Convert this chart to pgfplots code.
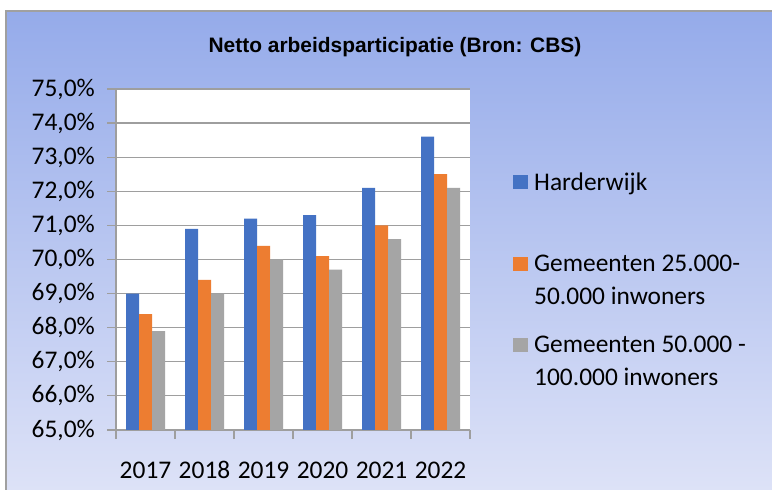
\documentclass[border=0pt]{standalone}
\usepackage{fontspec}
\setmainfont{Carlito}
\newfontfamily\arialf{Liberation Sans}
\usepackage{pgfplots}
\pgfplotsset{compat=1.18}
\definecolor{bblue}{RGB}{68,114,196}
\definecolor{borange}{RGB}{237,125,49}
\definecolor{bgray}{RGB}{165,165,165}
\definecolor{gridc}{RGB}{158,158,158}
\definecolor{bgtop}{RGB}{149,171,234}
\definecolor{bgbot}{RGB}{221,226,247}
\definecolor{framec}{RGB}{160,160,160}
\pgfplotsset{sqlegend/.style={legend image code/.code={\fill[##1,draw=none] (0bp,1bp) rectangle (15bp,15bp);}}}
\begin{document}
\begin{tikzpicture}
\useasboundingbox (0bp,0bp) rectangle (772bp,490bp);
\fill[white] (0bp,0bp) rectangle (772bp,490bp);
\shade[top color=bgtop, bottom color=bgbot] (6bp,0bp) rectangle (772bp,479bp);
\draw[framec, line width=2bp] (6bp,0bp) -- (6bp,479bp) -- (772bp,479bp);
\node[anchor=base, inner sep=0pt, font=\arialf\bfseries\fontsize{21}{25}\selectfont] at (395bp,437bp) {Netto arbeidsparticipatie (Bron: CBS)};
\begin{axis}[
  at={(116bp,60bp)}, anchor=south west,
  scale only axis, width=354bp, height=341bp,
  ybar=0pt, bar width=13bp,
  xmin=-0.5, xmax=5.5, ymin=65, ymax=75,
  enlargelimits=false,
  xtick={-0.5,0.5,...,5.5},
  x tick label as interval,
  xticklabels={2017,2018,2019,2020,2021,2022},
  ytick={65,66,...,75},
  yticklabels={{65,0\%},{66,0\%},{67,0\%},{68,0\%},{69,0\%},{70,0\%},{71,0\%},{72,0\%},{73,0\%},{74,0\%},{75,0\%}},
  axis x line*=bottom, axis y line*=left,
  axis line style={-, gridc, line width=1.2bp},
  ymajorgrids, grid style={gridc, line width=1.2bp},
  tick align=outside, major tick length=9bp,
  tick style={gridc, line width=1.2bp},
  axis background/.style={fill=white},
  ticklabel style={font=\fontsize{25.5}{30}\selectfont, text=black},
  yticklabel style={anchor=east, inner sep=0pt, xshift=-12bp},
  xticklabel style={anchor=base, inner sep=0pt, yshift=-39bp},
  legend style={at={(1.1215,0.7716)}, anchor=north west, draw=none, fill=none,
    inner sep=0pt, row sep=56.9bp, column sep=6bp, nodes={inner sep=0pt},
    cells={anchor=base west}, font=\fontsize{25.5}{33}\selectfont},
]
\addplot[fill=bblue, draw=none, sqlegend] coordinates {(0,69.0) (1,70.9) (2,71.2) (3,71.3) (4,72.1) (5,73.6)};
\addlegendentry{\parbox[t]{240bp}{\strut Harderwijk}}
\addplot[fill=borange, draw=none, sqlegend] coordinates {(0,68.4) (1,69.4) (2,70.4) (3,70.1) (4,71.0) (5,72.5)};
\addlegendentry{\parbox[t]{240bp}{\strut Gemeenten 25.000-\\\strut 50.000 inwoners}}
\addplot[fill=bgray, draw=none, sqlegend] coordinates {(0,67.9) (1,69.0) (2,70.0) (3,69.7) (4,70.6) (5,72.1)};
\addlegendentry{\parbox[t]{240bp}{\strut Gemeenten 50.000 -\\\strut 100.000 inwoners}}
\end{axis}
\end{tikzpicture}
\end{document}
